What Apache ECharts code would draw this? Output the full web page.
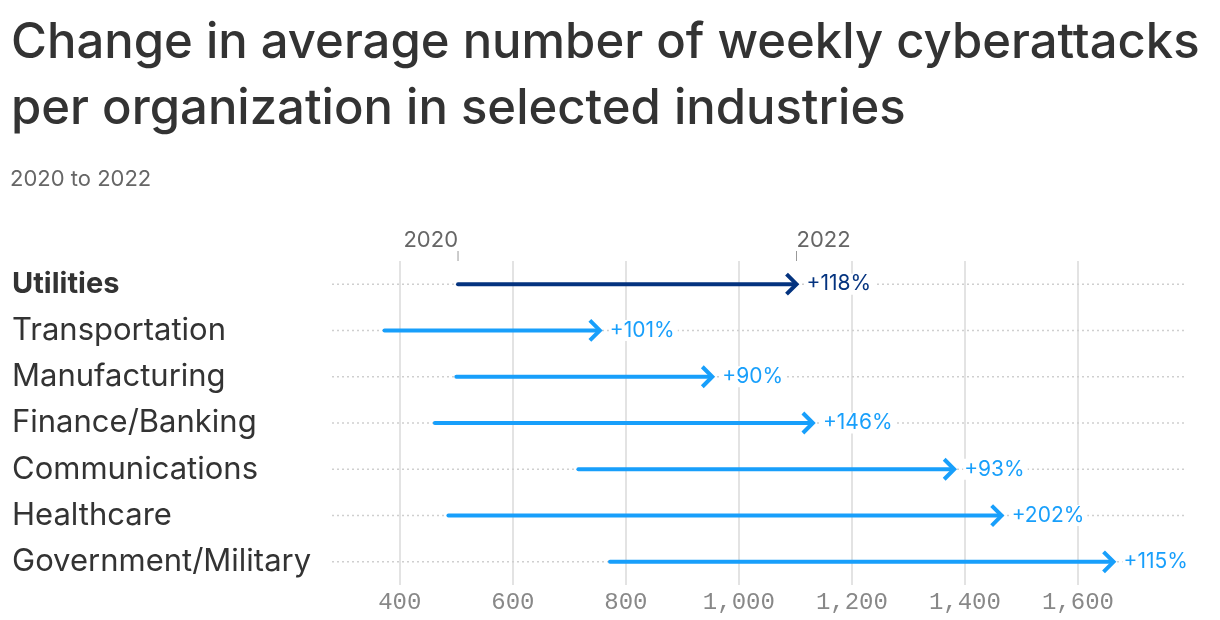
<!DOCTYPE html>
<html>
<head>
<meta charset="utf-8">
<script src="https://cdn.jsdelivr.net/npm/echarts@6/dist/echarts.min.js"></script>
<style>
  html, body { margin: 0; padding: 0; background: #fff; }
  #chart { width: 1220px; height: 620px; }
</style>
</head>
<body>
<div id="chart"></div>
<script>
const categories = ['Utilities', 'Transportation', 'Manufacturing', 'Finance/Banking', 'Communications', 'Healthcare', 'Government/Military'];
const values2020 = [503, 373, 500, 462, 716, 486, 772];
const values2022 = [1102, 754, 953, 1131, 1381, 1465, 1663];
const changeLabels = ['+118%', '+101%', '+90%', '+146%', '+93%', '+202%', '+115%'];
const xTicks = [400, 600, 800, 1000, 1200, 1400, 1600];
const yearLabels = ['2020', '2022'];

const NAVY = '#04337f';
const BLUE = '#189ffb';
const FONT = 'Inter, "Noto Sans", sans-serif';

const seriesData = categories.map((c, i) => [i, values2020[i], values2022[i]]);

const chart = echarts.init(document.getElementById('chart'));
chart.setOption({
  animation: false,
  backgroundColor: '#fff',
  title: [
    {
      text: 'Change in average number of weekly cyberattacks\nper organization in selected industries',
      left: 11, top: 10, padding: 0,
      textStyle: { fontFamily: FONT, fontSize: 49, fontWeight: 500, color: '#333', lineHeight: 66 }
    },
    {
      text: '2020 to 2022',
      left: 10, top: 168, padding: 0,
      textStyle: { fontFamily: FONT, fontSize: 22, fontWeight: 400, color: '#666' }
    }
  ],
  grid: { left: 332, right: 33, top: 261, bottom: 35 },
  xAxis: {
    type: 'value',
    min: 280, max: 1793,
    axisLine: { show: false },
    axisTick: { show: false, customValues: xTicks },
    axisLabel: {
      customValues: xTicks,
      margin: 6,
      color: '#888',
      fontFamily: '"Liberation Mono", "DejaVu Sans Mono", monospace',
      fontSize: 24,
      formatter: v => v.toLocaleString('en-US')
    },
    splitLine: { show: true, lineStyle: { color: '#e3e3e3', width: 2 } }
  },
  yAxis: {
    type: 'category',
    data: categories,
    inverse: true,
    axisLine: { show: false },
    axisTick: { show: false },
    splitLine: { show: false },
    axisLabel: {
      align: 'left',
      margin: 320,
      formatter: (v, i) => (i === 0 ? '{b|' + v + '}' : '{n|' + v + '}'),
      rich: {
        b: { fontFamily: FONT, fontSize: 29, fontWeight: 700, color: '#333' },
        n: { fontFamily: FONT, fontSize: 31, fontWeight: 400, color: '#333' }
      }
    }
  },
  series: [{
    type: 'custom',
    data: seriesData,
    encode: { x: [1, 2], y: 0 },
    renderItem: function (params, api) {
      const cat = api.value(0);
      const p0 = api.coord([api.value(1), cat]);
      const p1 = api.coord([api.value(2), cat]);
      const cs = params.coordSys;
      const y = p0[1];
      const color = params.dataIndex === 0 ? NAVY : BLUE;
      const children = [
        {
          type: 'line',
          shape: { x1: cs.x, y1: y, x2: cs.x + cs.width, y2: y },
          style: { stroke: '#cfcfcf', lineWidth: 1.5, lineDash: [2, 3] }
        },
        {
          type: 'line',
          shape: { x1: p0[0], y1: y, x2: p1[0] - 2, y2: y },
          style: { stroke: color, lineWidth: 4, lineCap: 'round' }
        },
        {
          type: 'polyline',
          shape: { points: [[p1[0] - 10, y - 10], [p1[0], y], [p1[0] - 10, y + 10]] },
          style: { stroke: color, fill: null, lineWidth: 4, lineJoin: 'miter', lineCap: 'butt' }
        },
        {
          type: 'text',
          x: p1[0] + 9, y: y,
          style: {
            text: changeLabels[params.dataIndex],
            fill: color,
            font: '400 21px ' + FONT,
            verticalAlign: 'middle',
            align: 'left',
            backgroundColor: '#fff',
            padding: [0, 3, 0, 1]
          }
        }
      ];
      if (params.dataIndex === 0) {
        children.push(
          { type: 'line', shape: { x1: p0[0], y1: cs.y - 10, x2: p0[0], y2: cs.y }, style: { stroke: '#999', lineWidth: 1 } },
          { type: 'line', shape: { x1: p1[0], y1: cs.y - 10, x2: p1[0], y2: cs.y }, style: { stroke: '#999', lineWidth: 1 } },
          { type: 'text', x: p0[0], y: cs.y - 21, style: { text: yearLabels[0], fill: '#666', font: '400 22px ' + FONT, align: 'right', verticalAlign: 'middle' } },
          { type: 'text', x: p1[0], y: cs.y - 21, style: { text: yearLabels[1], fill: '#666', font: '400 22px ' + FONT, align: 'left', verticalAlign: 'middle' } }
        );
      }
      return { type: 'group', children: children };
    }
  }]
});
</script>
</body>
</html>
